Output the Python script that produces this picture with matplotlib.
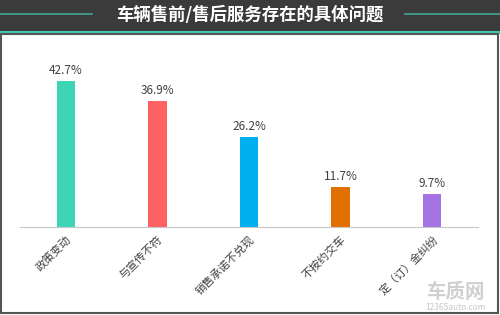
import matplotlib
matplotlib.use('Agg')
import matplotlib.pyplot as plt
from matplotlib.patches import Rectangle
from matplotlib.lines import Line2D

plt.rcParams['font.family'] = ['Noto Sans CJK SC', 'DejaVu Sans']

categories = ['政策变动', '与宣传不符', '销售承诺不兑现', '不按约交车', '定（订）金纠纷']
values = [42.7, 36.9, 26.2, 11.7, 9.7]
colors = ['#3dd5b5', '#ff6262', '#00aff0', '#e07000', '#a373e3']
title = '车辆售前/售后服务存在的具体问题'

fig = plt.figure(figsize=(5, 3.15), dpi=100)
W, H = 500, 315

# 顶部深色标题栏
fig.patches.append(Rectangle((0, 1 - 31 / H), 1, 31 / H, transform=fig.transFigure,
                             facecolor='#3b3b3b', edgecolor='none', zorder=0))
fig.patches.append(Rectangle((0, 1 - 34 / H), 1, 3 / H, transform=fig.transFigure,
                             facecolor='#3fc9b0', edgecolor='none', zorder=0))
fig.lines.append(Line2D([0, 92 / W], [1 - 14 / H] * 2, transform=fig.transFigure,
                        color='#3fa898', lw=1.2))
fig.lines.append(Line2D([405 / W, 1], [1 - 14 / H] * 2, transform=fig.transFigure,
                        color='#3fa898', lw=1.2))
fig.text(0.5, 1 - 15 / H, title, color='white', fontsize=12.5, fontweight='bold',
         ha='center', va='center')

# 外框
fig.patches.append(Rectangle((1 / W, 2 / H), 497 / W, (H - 36) / H, transform=fig.transFigure,
                             facecolor='none', edgecolor='#555555', lw=1.5, zorder=0))

ax = fig.add_axes([20 / W, 1 - 227 / H, 458 / W, 171 / H])
x = range(len(categories))
ax.bar(x, values, width=0.2, color=colors)
for i, v in enumerate(values):
    ax.text(i, v + 1.2, f'{v}%', ha='center', va='bottom', fontsize=8.5, color='#404040')

ax.set_xlim(-0.5, 4.5)
ax.set_ylim(0, 50)
ax.set_yticks([])
ax.set_xticks(list(x))
ax.set_xticklabels(categories, rotation=45, ha='right', rotation_mode='anchor',
                   fontsize=8, color='#404040')
ax.tick_params(axis='x', length=0, pad=5)
for s in ['top', 'right', 'left']:
    ax.spines[s].set_visible(False)
ax.spines['bottom'].set_color('#c8c8c8')

# 水印
fig.text(455 / W, 1 - 292 / H, '车质网', fontsize=14, color='#d0d0d0', ha='center', va='center',
         fontweight='bold')
fig.text(455 / W, 1 - 308 / H, '12365auto.com', fontsize=6, color='#c8c8c8', ha='center', va='center')

fig.savefig('out.png', dpi=100)
